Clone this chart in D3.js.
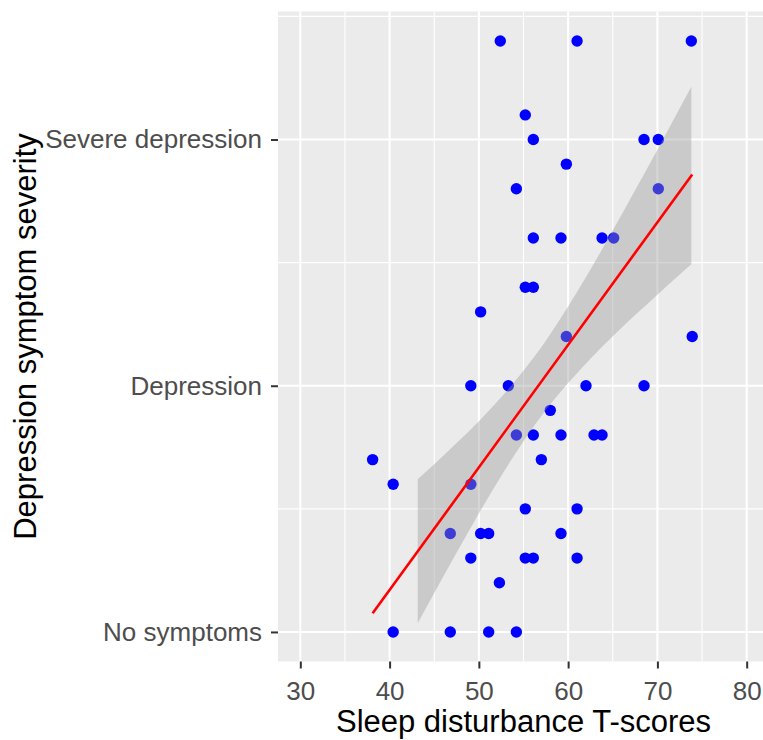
<!DOCTYPE html>
<html><head><meta charset="utf-8">
<script src="https://cdn.jsdelivr.net/npm/d3@7"></script>
<style>body{margin:0;background:#fff}</style>
</head><body><svg id="chart" width="763" height="740"></svg>
<script>
// Scatter data: sleep disturbance T-score (x) and depression symptom score (y)
const sleepScores = [52.4, 61.0, 73.8, 55.2, 56.1, 68.5, 70.1, 59.8, 54.2, 70.1,
  56.1, 59.2, 63.8, 65.1, 55.2, 56.1, 50.2, 59.8, 73.9, 49.1,
  53.3, 62.0, 68.5, 58.0, 54.2, 56.1, 59.2, 62.9, 63.8, 38.1,
  57.0, 40.4, 49.1, 55.2, 61.0, 46.8, 50.2, 51.1, 59.2, 49.1,
  55.2, 56.1, 61.0, 52.3, 40.4, 46.8, 51.1, 54.2];
const depressionScores = [24, 24, 24, 21, 20, 20, 20, 19, 18, 18,
  16, 16, 16, 16, 14, 14, 13, 12, 12, 10,
  10, 10, 10, 9, 8, 8, 8, 8, 8, 7,
  7, 6, 6, 5, 5, 4, 4, 4, 4, 3,
  3, 3, 3, 2, 0, 0, 0, 0];

// Fitted line
const fitX = [38.1, 73.9];
const fitY = [0.76, 18.58];

// Confidence band
const bandX =     [43.15, 45, 47.5, 50, 52.5, 55, 57.5, 60, 62.5, 65, 67.5, 70, 72.5, 73.8];
const bandLower = [0.35, 1.58, 3.22, 4.81, 6.33, 7.75, 9.01, 10.11, 11.10, 12.01, 12.87, 13.70, 14.52, 14.93];
const bandUpper = [6.20, 6.81, 7.67, 8.56, 9.53, 10.61, 11.83, 13.22, 14.72, 16.31, 17.94, 19.59, 21.27, 22.14];

const xTickValues = [30, 40, 50, 60, 70, 80];
const xMinorValues = [35, 45, 55, 65, 75];
const yTickValues = [0, 10, 20];
const yTickLabels = ["No symptoms", "Depression", "Severe depression"];
const yMinorValues = [5, 15, 25];
const xTitle = "Sleep disturbance T-scores";
const yTitle = "Depression symptom severity";

const svg = d3.select("#chart");
const panel = {left: 278, right: 769, top: 11.5, bottom: 661.5};
const x = d3.scaleLinear().domain([27.5, 82.5]).range([panel.left, panel.right]);
const y = d3.scaleLinear().domain([-1.2, 25.2]).range([panel.bottom, panel.top]);

svg.append("rect").attr("x", panel.left).attr("y", panel.top)
  .attr("width", panel.right - panel.left).attr("height", panel.bottom - panel.top)
  .attr("fill", "#EBEBEB");

const grid = svg.append("g");
grid.selectAll(".vmin").data(xMinorValues).join("line")
  .attr("x1", d => x(d)).attr("x2", d => x(d)).attr("y1", panel.top).attr("y2", panel.bottom)
  .attr("stroke", "#fff").attr("stroke-width", 1.1);
grid.selectAll(".hmin").data(yMinorValues).join("line")
  .attr("y1", d => y(d)).attr("y2", d => y(d)).attr("x1", panel.left).attr("x2", panel.right)
  .attr("stroke", "#fff").attr("stroke-width", 1.1);
grid.selectAll(".vmaj").data(xTickValues).join("line")
  .attr("x1", d => x(d)).attr("x2", d => x(d)).attr("y1", panel.top).attr("y2", panel.bottom)
  .attr("stroke", "#fff").attr("stroke-width", 2.1);
grid.selectAll(".hmaj").data(yTickValues).join("line")
  .attr("y1", d => y(d)).attr("y2", d => y(d)).attr("x1", panel.left).attr("x2", panel.right)
  .attr("stroke", "#fff").attr("stroke-width", 2.1);

// points
const pts = sleepScores.map((s, i) => ({x: s, y: depressionScores[i]}));
svg.append("g").selectAll("circle").data(pts).join("circle")
  .attr("cx", d => x(d.x)).attr("cy", d => y(d.y)).attr("r", 5.7)
  .attr("fill", "#0000FF");

// band
const band = bandX.map((bx, i) => ({x: bx, lo: bandLower[i], hi: bandUpper[i]}));
svg.append("path").datum(band)
  .attr("d", d3.area().x(d => x(d.x)).y0(d => y(d.lo)).y1(d => y(d.hi)).curve(d3.curveMonotoneX))
  .attr("fill", "#999999").attr("fill-opacity", 0.4);

// fit line
const fit = fitX.map((fx, i) => ({x: fx, y: fitY[i]}));
svg.append("path").datum(fit)
  .attr("d", d3.line().x(d => x(d.x)).y(d => y(d.y)))
  .attr("fill", "none").attr("stroke", "#FF0000").attr("stroke-width", 2.6);

// axes
const font = "'Liberation Sans', Arial, sans-serif";
const yAxis = svg.append("g").attr("transform", `translate(${panel.left},0)`)
  .call(d3.axisLeft(y).tickValues(yTickValues).tickFormat((d, i) => yTickLabels[i]).tickSize(7).tickPadding(9));
const xAxis = svg.append("g").attr("transform", `translate(0,${panel.bottom})`)
  .call(d3.axisBottom(x).tickValues(xTickValues).tickFormat(d3.format("d")).tickSize(7).tickPadding(13));
[yAxis, xAxis].forEach(a => {
  a.select(".domain").remove();
  a.selectAll(".tick line").attr("stroke", "#333333").attr("stroke-width", 2);
  a.selectAll(".tick text").attr("fill", "#4D4D4D").style("font-family", font).style("font-size", "26px");
});

svg.append("text").attr("x", (panel.left + panel.right) / 2).attr("y", 732)
  .attr("text-anchor", "middle").style("font-family", font).style("font-size", "31px")
  .attr("fill", "#000").text(xTitle);
svg.append("text").attr("transform", `translate(36,${(panel.top + panel.bottom) / 2}) rotate(-90)`)
  .attr("text-anchor", "middle").style("font-family", font).style("font-size", "31px")
  .attr("fill", "#000").text(yTitle);
</script>
</body></html>
